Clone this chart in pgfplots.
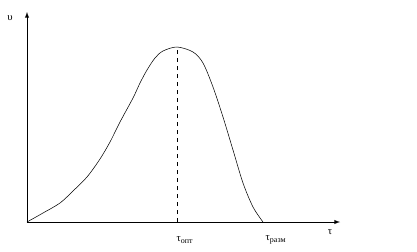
\documentclass[border=0pt]{standalone}
\usepackage{fontspec}
\setmainfont{Liberation Serif}
\usepackage{pgfplots}
\pgfplotsset{compat=1.18}
\begin{document}
\begin{tikzpicture}[x=0.75pt,y=0.75pt]
\useasboundingbox (-27,-29) rectangle (390,222);
\begin{axis}[
  anchor=origin, at={(0,0)},
  x=0.75pt, y=0.75pt,
  xmin=0, xmax=313, ymin=0, ymax=210,
  axis lines=left,
  axis line style={-latex, line width=0.5pt},
  ticks=none,
  clip=false,
]
\addplot[smooth, line width=0.4pt, black] coordinates {
(0,0) (16,9) (33,19) (46,31) (60,45) (73,63) (83,80) (93,100) (106,124) (113,139) (120,152) (128,164) (136,171) (150,175) (166,170) (176,159) (186,135) (196,105) (206,72) (216,39) (226,15) (236,0)
};
\addplot[dashed, line width=0.5pt, black] coordinates {(150,0) (150,175)};
\node[font=\footnotesize] at (axis cs:-17,204) {υ};
\node[font=\footnotesize] at (axis cs:303,-10) {τ};
\node[font=\footnotesize] at (axis cs:158,-18) {τ\textsubscript{опт}};
\node[font=\footnotesize] at (axis cs:249,-18) {τ\textsubscript{разм}};
\end{axis}
\end{tikzpicture}
\end{document}
